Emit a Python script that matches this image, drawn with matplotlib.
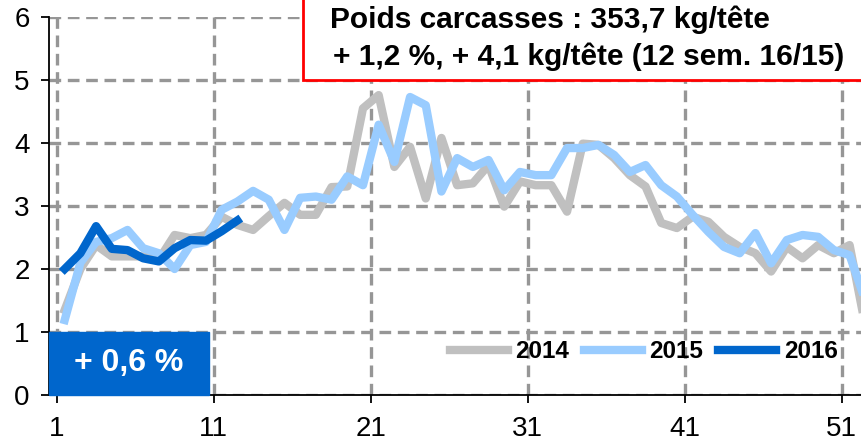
import matplotlib
matplotlib.use('Agg')
import matplotlib.pyplot as plt
from matplotlib.patches import Rectangle

plt.rcParams['font.family'] = ['Liberation Sans', 'DejaVu Sans']

weeks_2014 = list(range(1, 53))
poids_2014 = [1.35, 2.0, 2.38, 2.2, 2.2, 2.2, 2.15, 2.54, 2.49, 2.54,
              2.83, 2.7, 2.62, 2.84, 3.05, 2.86, 2.86, 3.3, 3.31, 4.55,
              4.76, 3.62, 3.94, 3.12, 4.08, 3.33, 3.36, 3.65, 2.99, 3.39,
              3.33, 3.33, 2.91, 3.99, 3.97, 3.76, 3.49, 3.31, 2.73, 2.65,
              2.83, 2.75, 2.51, 2.35, 2.25, 1.96, 2.35, 2.17, 2.38, 2.25,
              2.38, 1.1]

weeks_2015 = list(range(1, 53))
poids_2015 = [1.19, 2.1, 2.43, 2.49, 2.62, 2.33, 2.25, 2.0, 2.38, 2.43,
              2.94, 3.07, 3.24, 3.1, 2.62, 3.13, 3.15, 3.1, 3.47, 3.33,
              4.29, 3.7, 4.73, 4.6, 3.23, 3.76, 3.62, 3.73, 3.25, 3.54,
              3.49, 3.49, 3.92, 3.92, 3.97, 3.81, 3.54, 3.65, 3.33, 3.15,
              2.86, 2.59, 2.35, 2.25, 2.57, 2.09, 2.46, 2.54, 2.51, 2.3,
              2.22, 1.5]

weeks_2016 = list(range(1, 13))
poids_2016 = [2.0, 2.25, 2.68, 2.32, 2.3, 2.17, 2.12, 2.33, 2.46, 2.45,
              2.6, 2.77]

tick_labels = ['1', '11', '21', '31', '41', '51']

W, H = 861, 443
fig = plt.figure(figsize=(W / 100, H / 100), dpi=100)
# axes runs past the right edge of the picture
ax = fig.add_axes([49 / W, 48 / H, 832 / W, 378 / H])

ax.plot(weeks_2014, poids_2014, color='#C0C0C0', lw=6, label='2014', zorder=3)
ax.plot(weeks_2015, poids_2015, color='#99CCFF', lw=6, label='2015', zorder=4)
ax.plot(weeks_2016, poids_2016, color='#0066CC', lw=6, label='2016', zorder=5)

ax.set_xlim(0, 53)
ax.set_ylim(0, 6)
ax.set_xticks([int(t) - 0.5 for t in tick_labels])
ax.set_xticklabels(tick_labels)
ax.set_yticks(range(7))
ax.tick_params(labelsize=20, length=6, width=1.3)
ax.tick_params(axis='x', pad=9)
ax.tick_params(axis='y', pad=8)
ax.grid(True, color='#969696', ls=(0, (3.5, 2)), lw=2.4)
ax.set_axisbelow(True)
for s in ['top', 'right']:
    ax.spines[s].set_visible(False)
ax.spines['left'].set_linewidth(1.3)
ax.spines['bottom'].set_linewidth(1.3)

# blue box
ax.add_patch(Rectangle((0, 0), 10.2, 1, color='#0066CC', zorder=6, clip_on=False))
ax.text(5.1, 0.5, '+ 0,6 %', color='white', fontsize=23, fontweight='bold',
        ha='center', va='center', zorder=7)

# title box
fig.patches.append(Rectangle((303 / W, (H - 80) / H), 0.8, 0.3, transform=fig.transFigure,
                             facecolor='white', edgecolor='#FF0000', lw=2, zorder=10))
fig.text(330 / W, 1 - 20 / H, 'Poids carcasses : 353,7 kg/tête', fontsize=21.5,
         fontweight='bold', va='center', zorder=11)
fig.text(333 / W, 1 - 57 / H, '+ 1,2 %, + 4,1 kg/tête (12 sem. 16/15)', fontsize=21.5,
         fontweight='bold', va='center', zorder=11)

leg = fig.legend(loc='center left', bbox_to_anchor=(428 / W, 1 - 352 / H), ncol=3,
                 frameon=False, prop={'size': 17.5, 'weight': 'bold'},
                 handlelength=2.4, handletextpad=0.3, columnspacing=0.6)

fig.savefig('out.png', dpi=100)
